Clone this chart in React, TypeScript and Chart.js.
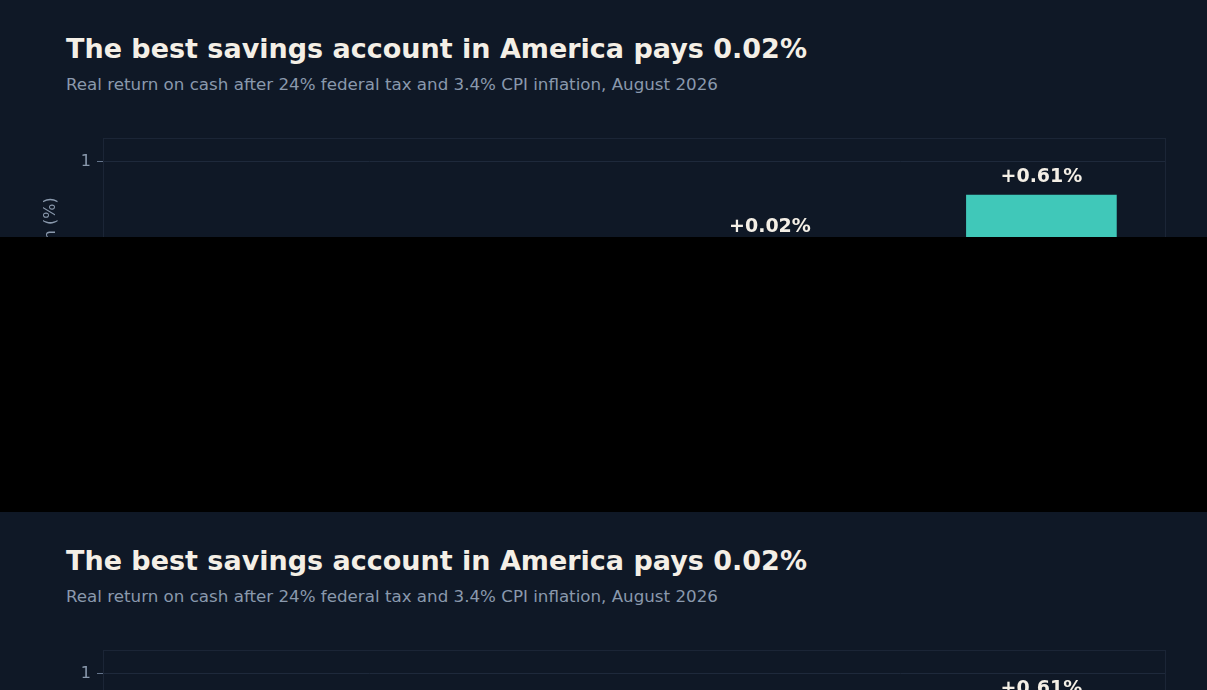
import { useEffect, useRef } from "react";
import { Chart, registerables } from "chart.js";

Chart.register(...registerables);

const categories = ["Big-bank savings", "Money market fund", "Best high-yield savings", "Series I bond"];
const realReturns = [-2.02, -0.55, 0.02, 0.61];
const yTicks = [-2, -1, 0, 1];

const BG = "#0f1826";
const GRID = "#1e293b";
const FRAME = "#1b2536";
const MUTED = "#8a99ad";
const INK = "#f4efe6";
const POS = "#40c8b9";
const NEG = "#e4606d";
const FONT = "'DejaVu Sans', sans-serif";

// thin box round the plot area
const framePlugin = {
  id: "frame",
  beforeDatasetsDraw(chart: any) {
    const { ctx, chartArea: a } = chart;
    ctx.save();
    ctx.strokeStyle = FRAME;
    ctx.lineWidth = 1;
    ctx.strokeRect(a.left + 0.5, a.top + 0.5, a.right - a.left - 1, a.bottom - a.top - 1);
    ctx.restore();
  },
};

const valueLabels = {
  id: "valueLabels",
  afterDatasetsDraw(chart: any) {
    const { ctx } = chart;
    const meta = chart.getDatasetMeta(0);
    ctx.save();
    ctx.font = `bold 19px ${FONT}`;
    ctx.fillStyle = INK;
    ctx.textAlign = "center";
    meta.data.forEach((bar: any, i: number) => {
      const v = realReturns[i];
      const txt = (v >= 0 ? "+" : "") + v.toFixed(2) + "%";
      if (v >= 0) {
        ctx.textBaseline = "alphabetic";
        ctx.fillText(txt, bar.x, bar.y - 13);
      } else {
        ctx.textBaseline = "top";
        ctx.fillText(txt, bar.x, bar.y + 8);
      }
    });
    ctx.restore();
  },
};

function Panel() {
  const canvasRef = useRef<HTMLCanvasElement>(null);
  const chartRef = useRef<Chart | null>(null);

  useEffect(() => {
    if (!canvasRef.current) return;
    if (chartRef.current) chartRef.current.destroy();

    chartRef.current = new Chart(canvasRef.current, {
      type: "bar",
      data: {
        datasets: [
          {
            label: "Real return",
            data: realReturns.map((v, i) => ({ x: i, y: v })),
            backgroundColor: realReturns.map((v) => (v >= 0 ? POS : NEG)),
            barThickness: 150,
            borderWidth: 0,
          },
        ],
      },
      options: {
        animation: false,
        responsive: true,
        maintainAspectRatio: false,
        layout: { padding: { left: 37, right: 41, top: 28, bottom: 16 } },
        plugins: { legend: { display: false }, tooltip: { enabled: false } },
        scales: {
          x: {
            type: "linear",
            offset: false,
            min: -0.457,
            max: 3.459,
            afterBuildTicks: (s: any) => {
              s.ticks = categories.map((_, i) => ({ value: i }));
            },
            afterFit: (s: any) => {
              s.height = 45;
            },
            grid: { display: false },
            border: { display: false },
            ticks: {
              color: MUTED,
              font: { family: FONT, size: 15 },
              callback: (v: any) => categories[v] ?? "",
            },
          },
          y: {
            min: -2.4,
            max: 1.282,
            afterBuildTicks: (s: any) => {
              s.ticks = yTicks.map((v) => ({ value: v }));
            },
            afterFit: (s: any) => {
              s.width = 66;
            },
            grid: { color: GRID, tickColor: "#64748b", tickLength: 6 },
            border: { color: GRID },
            ticks: { color: MUTED, padding: 6, font: { family: FONT, size: 16 } },
            title: {
              display: true,
              text: "Real after-tax return (%)",
              color: MUTED,
              font: { family: FONT, size: 16 },
            },
          },
        },
      },
      plugins: [framePlugin, valueLabels],
    });

    return () => {
      if (chartRef.current) {
        chartRef.current.destroy();
        chartRef.current = null;
      }
    };
  }, []);

  return (
    <div style={{ position: "relative", width: 1207, height: 512, background: BG, fontFamily: FONT }}>
      <div
        style={{
          position: "absolute",
          left: 66,
          top: 35,
          fontSize: 27,
          lineHeight: "27px",
          fontWeight: "bold",
          color: INK,
          whiteSpace: "nowrap",
        }}
      >
        The best savings account in America pays 0.02%
      </div>
      <div
        style={{
          position: "absolute",
          left: 66,
          top: 76,
          fontSize: 16.7,
          lineHeight: "16.7px",
          color: MUTED,
          whiteSpace: "nowrap",
        }}
      >
        Real return on cash after 24% federal tax and 3.4% CPI inflation, August 2026
      </div>
      <div style={{ position: "absolute", left: 0, top: 110, width: 1207, height: 402 }}>
        <canvas ref={canvasRef} />
      </div>
    </div>
  );
}

export default function App() {
  return (
    <div
      style={{
        position: "fixed",
        left: 0,
        top: 0,
        width: 1207,
        height: 690,
        overflow: "hidden",
        background: "#000",
      }}
    >
      <div style={{ height: 237, overflow: "hidden" }}>
        <Panel />
      </div>
      <div style={{ height: 275, background: "#000" }} />
      <div style={{ height: 178, overflow: "hidden" }}>
        <Panel />
      </div>
    </div>
  );
}
